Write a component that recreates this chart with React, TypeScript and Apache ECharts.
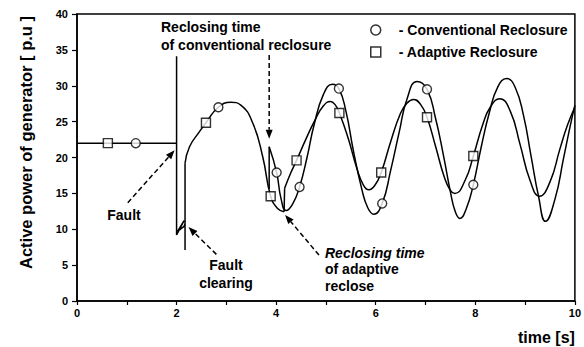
import React, { useEffect, useRef } from "react";
import * as echarts from "echarts";

type Pt = [number, number];

// Pre-fault operation and fault period (shared by both cases)
const faultPath: Pt[] = [
  [0, 22], [2, 22], [2, 34.1], [2, 9.2], [2.15, 11.2], [2.02, 9.7], [2.15, 10.4],
  [2.17, 10.8], [2.17, 7.1], [2.17, 19.2],
];
// Post-fault swing before any reclosure (shared; continues as adaptive until it recloses)
const swingBeforeReclose: Pt[] = [
  [2.17, 19.2], [2.26, 21.5], [2.46, 23.6], [2.59, 24.85], [2.84, 27.0], [3.09, 27.7],
  [3.29, 27.3], [3.53, 24.8], [3.73, 20.1], [3.89, 14.6], [4.03, 12.9], [4.16, 12.45],
];
// Conventional reclosure step and response
const conventionalStep: Pt[] = [[3.86, 15.6], [3.86, 21.5]];
const conventional: Pt[] = [
  [3.86, 21.5], [4.01, 17.9], [4.1, 14.2], [4.2, 12.6], [4.33, 13.5], [4.47, 15.9],
  [4.62, 20.0], [4.76, 24.5], [4.95, 28.8], [5.13, 30.2], [5.26, 29.6], [5.4, 26.5],
  [5.55, 21.0], [5.72, 15.6], [5.84, 13.0], [5.96, 12.1], [6.13, 13.6], [6.3, 18.2],
  [6.47, 23.5], [6.63, 28.2], [6.83, 30.6], [7.03, 29.5], [7.2, 25.5], [7.36, 20.3],
  [7.5, 15.2], [7.6, 12.4], [7.69, 11.5], [7.82, 12.9], [7.96, 16.2], [8.12, 21.5],
  [8.28, 26.2], [8.45, 29.8], [8.63, 31.0], [8.8, 29.8], [8.97, 25.8], [9.12, 20.2],
  [9.27, 14.6], [9.41, 11.1], [9.6, 14.2], [9.77, 19.8], [9.9, 24.2], [10, 27.3],
];
// Adaptive reclosure step and response
const adaptiveStep: Pt[] = [[4.16, 12.45], [4.17, 15.7]];
const adaptive: Pt[] = [
  [4.17, 15.7], [4.29, 17.8], [4.41, 19.6], [4.6, 22.6], [4.78, 25.2], [4.95, 27.2],
  [5.09, 27.8], [5.18, 27.4], [5.27, 26.2], [5.45, 22.6], [5.62, 18.5], [5.75, 16.2],
  [5.86, 15.5], [5.98, 16.1], [6.11, 17.9], [6.3, 22.2], [6.5, 26.2], [6.63, 27.6],
  [6.76, 28.1], [6.9, 27.4], [7.03, 25.6], [7.2, 21.6], [7.38, 17.2], [7.5, 15.4],
  [7.59, 15.0], [7.8, 16.9], [7.96, 20.2], [8.15, 24.6], [8.3, 27.0], [8.49, 28.2],
  [8.7, 26.5], [8.9, 21.8], [9.1, 16.8], [9.29, 14.6], [9.5, 16.6], [9.7, 21.2],
  [9.85, 24.5], [10, 27.0],
];
// Marker positions
const conventionalMarkers: Pt[] = [
  [1.18, 22], [2.84, 27.0], [4.01, 17.9], [4.47, 15.9], [5.26, 29.6], [6.13, 13.6],
  [7.03, 29.5], [7.96, 16.2],
];
const adaptiveMarkers: Pt[] = [
  [0.62, 22], [2.59, 24.85], [3.89, 14.6], [4.41, 19.6], [5.27, 26.2], [6.11, 17.9],
  [7.03, 25.6], [7.96, 20.2],
];
const xTicks = [0, 2, 4, 6, 8, 10];

// Annotation arrows in data coordinates: [from, to]
const arrows: [Pt, Pt][] = [
  [[3.86, 34.3], [3.86, 22.6]],
  [[1.02, 13.7], [1.96, 21.0]],
  [[2.8, 6.5], [2.24, 10.3]],
  [[4.86, 6.4], [4.18, 12.0]],
];

const FONT = 'Arial, "Liberation Sans", Helvetica, sans-serif';

export default function App() {
  const ref = useRef<HTMLDivElement>(null);
  useEffect(() => {
    if (!ref.current) return;
    const chart = echarts.init(ref.current, undefined, { renderer: "svg" });
    const lineStyle = { color: "#000", width: 1.5 };
    const lineBase = { type: "line", showSymbol: false, symbol: "none", lineStyle, silent: true, z: 2 };
    const option: any = {
      animation: false,
      backgroundColor: "#fff",
      grid: { left: 77, right: 7, top: 14, bottom: 46, show: true, borderColor: "#000", borderWidth: 1.5, containLabel: false },
      legend: {
        orient: "vertical",
        left: 370,
        top: 23,
        padding: 0,
        itemWidth: 10,
        itemHeight: 10,
        itemGap: 8,
        itemStyle: { color: "#fff", borderColor: "#000", borderWidth: 1.5 },
        formatter: (n: string) => "- " + n,
        textStyle: { fontFamily: FONT, fontWeight: "bold", fontSize: 14, color: "#000", lineHeight: 14, padding: [0, 0, 0, 13] },
        data: [
          { name: "Conventional Reclosure", icon: "circle" },
          { name: "Adaptive Reclosure", icon: "rect" },
        ],
      },
      xAxis: {
        type: "value",
        min: 0,
        max: 10,
        interval: 1,
        name: "time [s]",
        nameLocation: "end",
        nameGap: 0,
        nameTextStyle: { fontFamily: FONT, fontWeight: "bold", fontSize: 16, color: "#000", align: "right", verticalAlign: "top", padding: [28, 0, 0, 0] },
        axisLine: { lineStyle: { color: "#000", width: 1.5 } },
        axisTick: { length: 4, lineStyle: { color: "#000", width: 1.2 } },
        axisLabel: {
          margin: 6,
          fontFamily: FONT,
          fontWeight: "bold",
          fontSize: 11,
          color: "#000",
          formatter: (v: number) => (xTicks.includes(v) ? String(v) : ""),
        },
        splitLine: { show: false },
      },
      yAxis: {
        type: "value",
        min: 0,
        max: 40,
        interval: 5,
        name: "Active power of generator [ p.u ]",
        nameLocation: "middle",
        nameGap: 43,
        nameTextStyle: { fontFamily: FONT, fontWeight: "bold", fontSize: 16.5, color: "#000", padding: [0, 0, 0, 30] },
        axisLine: { lineStyle: { color: "#000", width: 1.5 } },
        axisTick: { length: 5, lineStyle: { color: "#000", width: 1.2 } },
        axisLabel: { margin: 9, fontFamily: FONT, fontWeight: "bold", fontSize: 11, color: "#000" },
        splitLine: { show: false },
      },
      series: [
        { ...lineBase, name: "fault", data: faultPath },
        { ...lineBase, name: "swing", data: swingBeforeReclose, smooth: 0.5 },
        { ...lineBase, name: "convStep", data: conventionalStep },
        { ...lineBase, name: "conv", data: conventional, smooth: 0.5 },
        { ...lineBase, name: "adStep", data: adaptiveStep },
        { ...lineBase, name: "adapt", data: adaptive, smooth: 0.5 },
        {
          type: "scatter",
          name: "Conventional Reclosure",
          symbol: "circle",
          symbolSize: 9,
          data: conventionalMarkers,
          itemStyle: { color: "#fff", borderColor: "#000", borderWidth: 1.4 },
          z: 5,
        },
        {
          type: "scatter",
          name: "Adaptive Reclosure",
          symbol: "rect",
          symbolSize: 9,
          data: adaptiveMarkers,
          itemStyle: { color: "#fff", borderColor: "#000", borderWidth: 1.4 },
          z: 5,
        },
      ],
    };
    chart.setOption(option);

    const graphics: any[] = [];
    arrows.forEach(([from, to]) => {
      const p0 = chart.convertToPixel({ gridIndex: 0 }, from) as number[];
      const p1 = chart.convertToPixel({ gridIndex: 0 }, to) as number[];
      const dx = p1[0] - p0[0];
      const dy = p1[1] - p0[1];
      const len = Math.sqrt(dx * dx + dy * dy);
      const ux = dx / len;
      const uy = dy / len;
      const hl = 9;
      const hw = 3.5;
      const bx = p1[0] - ux * hl;
      const by = p1[1] - uy * hl;
      graphics.push({
        type: "line",
        shape: { x1: p0[0], y1: p0[1], x2: bx, y2: by },
        style: { stroke: "#000", lineWidth: 1.5, lineDash: [5, 3] },
        z: 10,
      });
      graphics.push({
        type: "polygon",
        shape: { points: [[p1[0], p1[1]], [bx - uy * hw, by + ux * hw], [bx + uy * hw, by - ux * hw]] },
        style: { fill: "#000" },
        z: 10,
      });
    });
    const txt = (text: string, x: number, y: number, align: string, extra: any = {}) => ({
      type: "text",
      x,
      y,
      z: 10,
      style: { text, x: 0, y: 0, fontFamily: FONT, fontWeight: "bold", fontSize: 14, fill: "#000", align, verticalAlign: "top", lineHeight: 18, ...extra },
    });
    graphics.push(txt("Reclosing time\nof conventional reclosure", 161, 18, "left"));
    graphics.push(txt("Fault", 124, 206, "center"));
    graphics.push(txt("Fault\nclearing", 226, 256, "center"));
    graphics.push(txt("Reclosing time", 325, 244, "left", { fontStyle: "italic" }));
    graphics.push(txt("of adaptive\nreclose", 325, 260, "left", { lineHeight: 17 }));
    chart.setOption({ graphic: graphics });

    return () => chart.dispose();
  }, []);
  return <div ref={ref} style={{ position: "fixed", left: 0, top: 0, width: 584, height: 347 }} />;
}
